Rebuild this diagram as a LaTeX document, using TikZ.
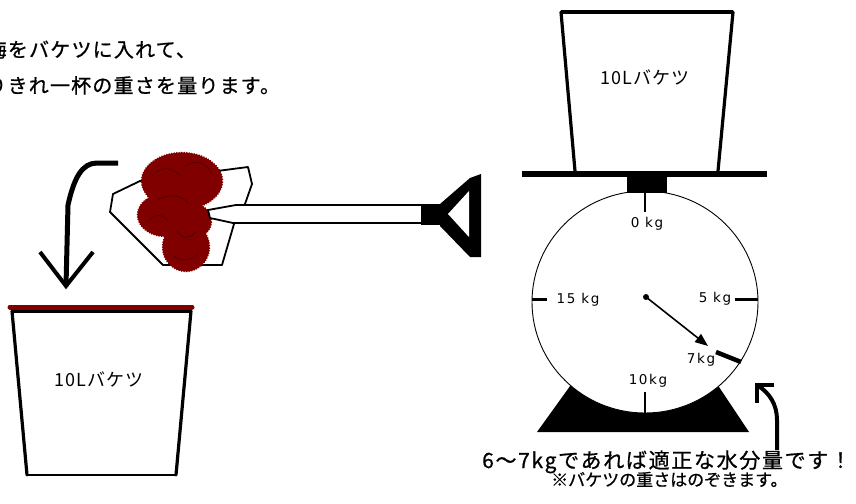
\documentclass[tikz,border=0pt]{standalone}
\usepackage{fontspec}
\usetikzlibrary{arrows.meta,shapes.geometric,decorations.pathmorphing}
\newfontfamily\jpwide[LetterSpace=6,FakeBold=0.8]{Noto Sans CJK JP}
\newfontfamily\jpnote[LetterSpace=8,FakeBold=0.8]{Noto Sans CJK JP}
\newfontfamily\jpbucket[LetterSpace=6]{Noto Sans CJK JP}
\newfontfamily\jpplain[FakeBold=0.6]{Noto Sans CJK JP}
\newfontfamily\dialfont[LetterSpace=12]{DejaVu Sans}
\definecolor{ume}{RGB}{128,0,0}
\definecolor{umedark}{RGB}{84,0,0}
\tikzset{
  heading/.style={inner sep=0pt, anchor=base west, font={\jpwide\fontsize{20pt}{20pt}\selectfont}},
  notebig/.style={inner sep=0pt, anchor=base west, font={\jpnote\fontsize{21pt}{21pt}\selectfont}},
  notesmall/.style={inner sep=0pt, anchor=base west, font={\jpplain\fontsize{17pt}{17pt}\selectfont}},
  bucketlabel/.style={inner sep=0pt, anchor=base, font={\jpbucket\fontsize{18pt}{18pt}\selectfont}},
  kglabel/.style={inner sep=0pt, anchor=center, font={\dialfont\fontsize{13.5pt}{13.5pt}\selectfont}},
  wall/.style={line width=3.2pt, line cap=round},
  outline/.style={line width=1.8pt, line join=round, fill=white},
  plum/.style={fill=ume, decorate, decoration={bumps, segment length=5pt, amplitude=1.3pt}},
  curl/.style={draw=umedark, line width=0.8pt},
}
\begin{document}
\begin{tikzpicture}[x=1pt,y=-1pt]
\clip (0,0) rectangle (856,503);
\fill[white] (0,0) rectangle (856,503);

% instructions at the top left
\node[heading] (h1) at (-13.5,57) {梅をバケツに入れて、};
\node[heading] (h2) at (-35,93) {すりきれ一杯の重さを量ります。};

% bucket on the floor, rim stained red
\draw[line width=3pt] (12,311) -- (191,311);
\draw[line width=5pt, draw=ume, line cap=round] (10,307) -- (192,307);
\draw[wall] (12,311) -- (27,475);
\draw[wall] (191,311) -- (176,475);
\draw[line width=2pt] (27,475) -- (176,475);
\node[bucketlabel] (lbucket) at (99,386) {10Lバケツ};

% pouring arrow
\coordinate (pourA) at (118,163);
\coordinate (pourTip) at (66,286);
\draw[line width=5pt, line join=round] (pourA) -- (97,163) .. controls (82,163) and (74,178) .. (68,205) -- (pourTip);
\draw[line width=4pt, line join=miter] (40,252) -- (pourTip) -- (93,252);

% shovel blade
\draw[outline] (140,181) -- (248,167) -- (252,184) -- (245,204) -- (234,224) -- (222,265) -- (163,265) -- (110,212) -- (113,194) -- cycle;

% pile of plums on the blade
\path[plum] (182,181) ellipse [x radius=40, y radius=28];
\path[plum] (165,215) ellipse [x radius=27, y radius=21];
\path[plum] (195,221) ellipse [x radius=16, y radius=16];
\path[plum] (186,247) ellipse [x radius=23, y radius=24];
\fill[ume] (182,181) ellipse [x radius=37, y radius=25];
\fill[ume] (165,215) ellipse [x radius=24, y radius=18];
\fill[ume] (186,247) ellipse [x radius=20, y radius=21];
\fill[ume] (180,205) ellipse [x radius=22, y radius=22];
\draw[curl] (152,176) .. controls (160,166) and (172,167) .. (179,175);
\draw[curl] (185,166) .. controls (194,159) and (207,163) .. (211,172);
\draw[curl] (158,200) .. controls (168,193) and (182,195) .. (188,203);
\draw[curl] (148,222) .. controls (153,214) and (163,213) .. (168,221);
\draw[curl] (177,231) .. controls (182,239) and (191,239) .. (195,232);
\draw[curl] (174,256) .. controls (181,262) and (193,261) .. (198,253);

% shovel handle and grip
\draw[outline] (422,205) -- (236,205) -- (208,210) -- (210,218) -- (233,223) -- (422,223) -- cycle;
\fill (421,204) rectangle (443,225);
\fill (440,204) -- (470,178) -- (481,174) -- (481,257) -- (470,257) -- (440,226) -- cycle;
\fill[white] (448,214) -- (469,191) -- (469,237) -- cycle;

% bucket on the scale
\draw[wall] (561,12) -- (575,171);
\draw[wall] (733,12) -- (718,171);
\draw[line width=4pt] (561,12) -- (733,12);
\node[bucketlabel] (rbucket) at (645,84) {10Lバケツ};

% scale body
\fill (537,432) -- (578,375) -- (711,375) -- (749,432) -- cycle;
\node[ellipse, draw, fill=white, line width=0.9pt, minimum width=226pt, minimum height=222pt, inner sep=0pt] (dial) at (645,302) {};
\draw[line width=6pt] (522,174) -- (767,174);
\fill (627,177) rectangle (667,193);

% dial ticks and labels
\draw[line width=2.5pt] (645,193) -- (645,212);
\draw[line width=3pt] (532,299) -- (547,299);
\draw[line width=3pt] (735,299) -- (758,299);
\draw[line width=2pt] (645,392) -- (645,413);
\draw[line width=4.5pt] (716,352) -- (741,362);
\node[kglabel] (k0) at (647,224) {0 kg};
\node[kglabel] (k15) at (578,300) {15 kg};
\node[kglabel] (k5) at (715,299) {5 kg};
\node[kglabel] (k7) at (701,360) {7kg};
\node[kglabel] (k10) at (648,381) {10kg};

% pointer
\coordinate (pivot) at (646,297);
\coordinate (ptr) at (708,346);
\fill (pivot) circle (3pt);
\draw[line width=1.6pt, -{Triangle[length=13pt,width=10pt]}] (pivot) -- (ptr);

% arrow pointing at the reading
\coordinate (callTip) at (757,385);
\draw[line width=4pt] (777,450) -- (777,420) .. controls (777,405) and (770,393) .. (callTip);
\draw[line width=4pt, line join=miter] (774,385) -- (callTip) -- (757,403);

% note below the scale
\node[notebig] (n1) at (482,468) {6～7kgであれば適正な水分量です！};
\node[notesmall] (n2) at (551,486) {※バケツの重さはのぞきます。};
\end{tikzpicture}
\end{document}
